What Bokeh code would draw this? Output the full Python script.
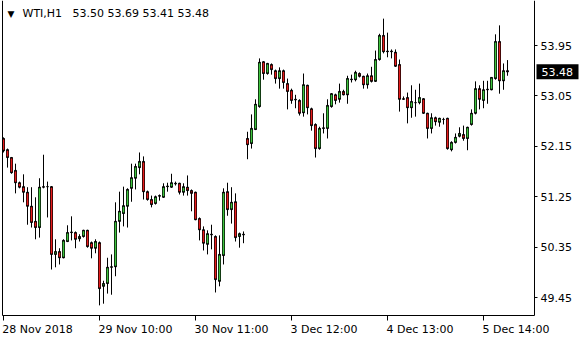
from bokeh.plotting import figure
from bokeh.models import (LinearAxis, FixedTicker, PrintfTickFormatter, Label,
                          Range1d, ColumnDataSource, BoxAnnotation)
from bokeh.embed import file_html
from bokeh.resources import INLINE

# ---------------- data ----------------
symbol = "WTI,H1"

opens = [52.29, 52.09, 51.95, 51.72, 51.50, 51.43, 51.33, 51.08, 50.81, 50.70,
         51.42, 51.43, 51.43, 50.22, 50.27, 50.16, 50.45, 50.61, 50.61, 50.50,
         50.54, 50.65, 50.43, 50.33, 50.43, 49.65, 49.70, 49.99, 50.00, 50.81,
         50.95, 51.08, 51.40, 51.58, 51.77, 51.88, 51.34, 51.20, 51.13, 51.26,
         51.24, 51.43, 51.42, 51.49, 51.49, 51.33, 51.42, 51.36, 51.33, 50.86,
         50.66, 50.40, 50.58, 50.54, 49.74, 50.20, 51.34, 51.02, 51.16, 50.54,
         50.58, 52.29, 52.20, 52.45, 52.86, 53.66, 53.45, 53.61, 53.50, 53.36,
         53.50, 53.27, 53.15, 52.99, 52.97, 52.75, 53.24, 52.82, 52.54, 52.11,
         52.47, 52.47, 52.86, 53.07, 52.99, 53.13, 53.07, 53.34, 53.34, 53.45,
         53.40, 53.25, 53.41, 53.31, 53.70, 54.13, 53.84, 53.85, 53.83, 53.61,
         52.99, 53.02, 52.84, 52.93, 52.93, 53.00, 52.74, 52.47, 52.66, 52.58,
         52.63, 52.65, 52.09, 52.22, 52.33, 52.36, 52.29, 52.54, 52.74, 53.18,
         52.97, 53.16, 53.16, 53.36, 54.02, 53.32, 53.50]
highs = [52.31, 52.11, 51.96, 51.84, 51.52, 51.65, 51.42, 51.42, 51.24, 51.58,
         52.00, 51.52, 51.44, 50.49, 50.33, 50.49, 50.74, 50.90, 50.63, 50.58,
         50.66, 50.66, 50.45, 50.49, 50.45, 49.75, 50.16, 50.22, 51.15, 51.34,
         51.43, 51.40, 51.84, 51.84, 52.04, 51.97, 51.36, 51.27, 51.27, 51.29,
         51.49, 51.50, 51.66, 51.52, 51.50, 51.49, 51.63, 51.38, 51.34, 50.88,
         50.72, 50.65, 50.75, 50.56, 50.56, 51.40, 51.50, 51.42, 51.31, 50.61,
         50.63, 52.41, 52.72, 52.99, 53.72, 53.67, 53.64, 53.63, 53.52, 53.56,
         53.52, 53.36, 53.18, 53.07, 52.99, 53.45, 53.25, 52.84, 52.56, 52.50,
         52.74, 52.99, 53.10, 53.09, 53.27, 53.16, 53.41, 53.43, 53.50, 53.47,
         53.41, 53.45, 53.57, 53.86, 54.16, 54.43, 54.18, 53.88, 53.88, 53.70,
         53.04, 53.11, 53.24, 53.16, 53.27, 53.01, 52.75, 52.74, 52.68, 52.66,
         52.66, 52.66, 52.24, 52.38, 52.49, 52.52, 52.50, 52.81, 53.31, 53.24,
         53.32, 53.32, 53.38, 54.15, 54.31, 53.63, 53.69]
lows = [52.04, 51.77, 51.66, 51.31, 51.40, 51.15, 50.75, 50.70, 50.49, 50.52,
        51.40, 50.88, 49.95, 49.99, 50.04, 50.15, 50.44, 50.47, 50.33, 50.45,
        50.52, 50.34, 50.15, 50.24, 49.31, 49.34, 49.52, 49.50, 49.83, 50.61,
        50.72, 50.70, 51.16, 51.38, 51.65, 51.20, 51.18, 51.06, 51.11, 51.18,
        51.23, 51.34, 51.41, 51.45, 51.29, 51.27, 51.27, 50.99, 50.83, 50.47,
        50.29, 50.22, 50.31, 49.54, 49.65, 50.04, 50.91, 50.77, 50.45, 50.34,
        50.42, 51.92, 52.11, 52.44, 52.84, 53.34, 53.43, 53.43, 53.27, 53.18,
        53.18, 52.81, 52.91, 52.83, 52.70, 52.68, 52.72, 52.43, 51.95, 52.09,
        52.38, 52.29, 52.84, 52.90, 52.93, 53.06, 52.91, 53.29, 53.31, 53.38,
        53.18, 53.18, 53.29, 53.30, 53.68, 53.81, 53.74, 53.72, 53.57, 52.77,
        52.98, 52.56, 52.66, 52.68, 52.90, 52.73, 52.29, 52.38, 52.52, 52.50,
        52.54, 52.09, 52.06, 52.20, 52.31, 52.25, 52.08, 52.52, 52.72, 52.81,
        52.83, 52.91, 53.15, 53.34, 53.09, 53.16, 53.41]
closes = [52.07, 51.95, 51.68, 51.50, 51.42, 51.33, 51.08, 50.79, 50.70, 51.42,
          51.43, 51.43, 50.22, 50.27, 50.16, 50.47, 50.61, 50.62, 50.49, 50.54,
          50.65, 50.36, 50.33, 50.45, 49.61, 49.70, 49.99, 50.00, 50.81, 50.99,
          51.09, 51.38, 51.59, 51.79, 51.88, 51.34, 51.20, 51.11, 51.25, 51.27,
          51.43, 51.44, 51.50, 51.48, 51.33, 51.43, 51.36, 51.31, 50.84, 50.66,
          50.42, 50.59, 50.57, 49.77, 50.22, 51.33, 51.02, 51.15, 50.52, 50.59,
          50.57, 52.18, 52.47, 52.90, 53.65, 53.45, 53.63, 53.52, 53.36, 53.50,
          53.29, 53.13, 52.97, 52.98, 52.74, 53.25, 52.84, 52.52, 52.11, 52.47,
          52.48, 52.88, 53.09, 52.97, 53.13, 53.07, 53.36, 53.35, 53.47, 53.40,
          53.25, 53.41, 53.31, 53.70, 54.13, 53.84, 53.85, 53.84, 53.58, 52.99,
          53.00, 52.84, 52.95, 52.93, 53.02, 52.74, 52.47, 52.66, 52.59, 52.65,
          52.63, 52.11, 52.22, 52.31, 52.38, 52.29, 52.49, 52.74, 53.18, 52.99,
          53.16, 53.17, 53.38, 54.02, 53.32, 53.50, 53.48]

price_ticks = [49.45, 50.35, 51.25, 52.15, 53.05, 53.95]
time_tick_bars = [0, 24, 48, 72, 96, 120]
time_tick_labels = ["28 Nov 2018", "29 Nov 10:00", "30 Nov 11:00",
                    "3 Dec 12:00", "4 Dec 13:00", "5 Dec 14:00"]

# ---------------- layout / styles ----------------
W, H = 580, 340
FONT = "DejaVu Sans"
FS = "11px"
UP_COLOR = "#3ec43e"
DOWN_COLOR = "#e81c1c"
PX_PER_BAR = 4.0          # MT4 zoom: one H1 bar every 4 px
FIRST_BAR_PX = 3.0
PX_PER_PRICE = 56.0       # vertical scale
PRICE_AT_TOP = 54.754
PRICE_SCALE_PX = 534      # x of the price-scale line
TIME_SCALE_PX = 315       # y of the time-scale line
LEFT_LINE_PX = 2
label_half_width_px = [34, 36, 36, 32.5, 32.5, 32.5]

x0 = -FIRST_BAR_PX / PX_PER_BAR
x_range = Range1d(x0, x0 + W / PX_PER_BAR)
y_range = Range1d(PRICE_AT_TOP - H / PX_PER_PRICE, PRICE_AT_TOP)
x_price_scale = x0 + PRICE_SCALE_PX / PX_PER_BAR
x_left_line = x0 + LEFT_LINE_PX / PX_PER_BAR
y_time_scale = PRICE_AT_TOP - TIME_SCALE_PX / PX_PER_PRICE
one_px = 1.0 / PX_PER_PRICE

bars = list(range(len(opens)))
colors = [UP_COLOR if c >= o else DOWN_COLOR for o, c in zip(opens, closes)]
tops = [max(o, c) for o, c in zip(opens, closes)]
bottoms = [min(o, c) for o, c in zip(opens, closes)]
src = ColumnDataSource(dict(x=bars, high=highs, low=lows, top=tops,
                            bottom=bottoms, color=colors))

# coloured interior of the bodies that are tall enough to show it
inner = [i for i in bars if tops[i] - bottoms[i] > 2 * one_px]
src_in = ColumnDataSource(dict(x=[bars[i] for i in inner],
                               top=[tops[i] - one_px for i in inner],
                               bottom=[bottoms[i] + one_px for i in inner],
                               color=[colors[i] for i in inner]))

p = figure(width=W, height=H, x_range=x_range, y_range=y_range,
           x_axis_location=None, y_axis_location=None,
           toolbar_location=None, output_backend="svg",
           min_border=0,
           background_fill_color="white", border_fill_color="white",
           outline_line_color=None)
p.grid.grid_line_color = None

p.segment(x0="x", y0="high", x1="x", y1="low", source=src,
          line_color="black", line_width=1)
p.vbar(x="x", width=0.5, top="top", bottom="bottom", source=src,
       fill_color="black", line_color="black", line_width=1)
p.vbar(x="x", width=0.4, top="top", bottom="bottom", source=src_in,
       fill_color="color", line_color=None)

# right price scale (fixed inside the canvas like MT4)
yaxis = LinearAxis(ticker=FixedTicker(ticks=price_ticks),
                   formatter=PrintfTickFormatter(format="%.2f"),
                   fixed_location=x_price_scale,
                   bounds=(y_time_scale, PRICE_AT_TOP),
                   axis_line_color="black", axis_line_width=1,
                   major_tick_out=3, major_tick_in=0,
                   major_tick_line_color="black",
                   minor_tick_line_color=None,
                   major_label_standoff=3,
                   major_label_text_font=FONT,
                   major_label_text_font_size=FS,
                   major_label_text_color="black")
p.add_layout(yaxis, "right")

# bottom time scale: minor ticks mark the bars, major ticks carry labels
label_centres = [b + hw / PX_PER_BAR for b, hw in zip(time_tick_bars, label_half_width_px)]
xaxis = LinearAxis(ticker=FixedTicker(ticks=label_centres, minor_ticks=time_tick_bars),
                   major_label_overrides={c: lab for c, lab in zip(label_centres, time_tick_labels)},
                   fixed_location=y_time_scale,
                   bounds=(x_left_line, x_price_scale),
                   axis_line_color="black", axis_line_width=1,
                   major_tick_out=5, major_tick_in=0,
                   major_tick_line_color=None,
                   minor_tick_out=5, minor_tick_in=0,
                   minor_tick_line_color="black",
                   major_label_standoff=2,
                   major_label_text_font=FONT,
                   major_label_text_font_size=FS,
                   major_label_text_color="black")
p.add_layout(xaxis, "below")

# left frame line
left_line = LinearAxis(ticker=FixedTicker(ticks=[]),
                       fixed_location=x_left_line,
                       bounds=(y_time_scale, PRICE_AT_TOP),
                       axis_line_color="black", axis_line_width=1,
                       major_tick_line_color=None, minor_tick_line_color=None,
                       major_label_text_font_size="0px")
p.add_layout(left_line, "left")

# header
hy = H - 13
p.add_layout(Label(x=7, y=hy, x_units="screen", y_units="screen",
                   text="\u25bc", text_font=FONT, text_font_size="9px",
                   text_color="black", text_baseline="middle"))
p.add_layout(Label(x=22, y=hy, x_units="screen", y_units="screen",
                   text=symbol, text_font=FONT, text_font_size=FS,
                   text_color="black", text_baseline="middle"))
ohlc_text = " ".join(f"{v:.2f}" for v in (opens[-1], highs[-1], lows[-1], closes[-1]))
p.add_layout(Label(x=72, y=hy, x_units="screen", y_units="screen",
                   text=ohlc_text, text_font=FONT, text_font_size=FS,
                   text_color="black", text_baseline="middle"))

# current price marker on the price scale: black box + white text
last = closes[-1]
p.add_layout(BoxAnnotation(left=x0 + (PRICE_SCALE_PX + 2) / PX_PER_BAR,
                           right=x0 + (W - 2) / PX_PER_BAR,
                           bottom=last - 7.5 * one_px, top=last + 7.5 * one_px,
                           fill_color="black", fill_alpha=1.0,
                           line_color=None))
p.add_layout(Label(x=x0 + (PRICE_SCALE_PX + 7) / PX_PER_BAR, y=last,
                   x_units="data", y_units="data",
                   text=f"{last:.2f}", text_font=FONT, text_font_size=FS,
                   text_color="white", text_baseline="middle"))

open("out.html", "w").write(file_html(p, INLINE))
